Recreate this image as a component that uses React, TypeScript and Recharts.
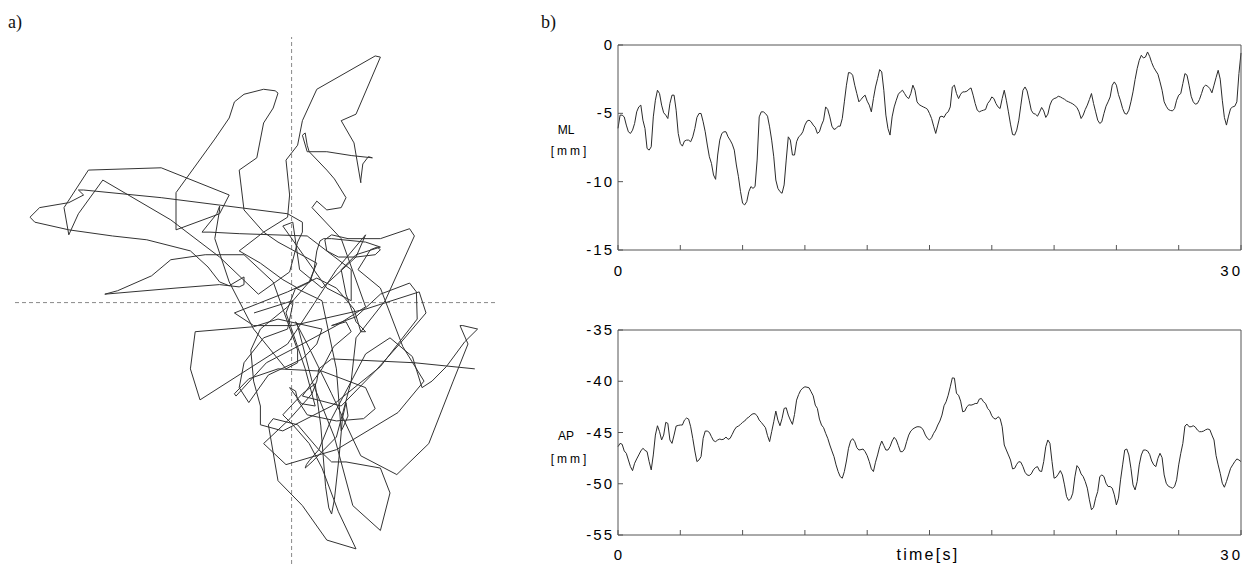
import React from "react";
import { Line, LineChart, ReferenceLine, XAxis, YAxis } from "recharts";

// sampling times [s]
const time = [
  0, 0.1, 0.2, 0.3, 0.4, 0.5, 0.6, 0.7, 0.8, 0.9,
  1, 1.1, 1.2, 1.3, 1.4, 1.5, 1.6, 1.7, 1.8, 1.9,
  2, 2.1, 2.2, 2.3, 2.4, 2.5, 2.6, 2.7, 2.8, 2.9,
  3, 3.1, 3.2, 3.3, 3.4, 3.5, 3.6, 3.7, 3.8, 3.9,
  4, 4.1, 4.2, 4.3, 4.4, 4.5, 4.6, 4.7, 4.8, 4.9,
  5, 5.1, 5.2, 5.3, 5.4, 5.5, 5.6, 5.7, 5.8, 5.9,
  6, 6.1, 6.2, 6.3, 6.4, 6.5, 6.6, 6.7, 6.8, 6.9,
  7, 7.1, 7.2, 7.3, 7.4, 7.5, 7.6, 7.7, 7.8, 7.9,
  8, 8.1, 8.2, 8.3, 8.4, 8.5, 8.6, 8.7, 8.8, 8.9,
  9, 9.1, 9.2, 9.3, 9.4, 9.5, 9.6, 9.7, 9.8, 9.9,
  10, 10.1, 10.2, 10.3, 10.4, 10.5, 10.6, 10.7, 10.8, 10.9,
  11, 11.1, 11.2, 11.3, 11.4, 11.5, 11.6, 11.7, 11.8, 11.9,
  12, 12.1, 12.2, 12.3, 12.4, 12.5, 12.6, 12.7, 12.8, 12.9,
  13, 13.1, 13.2, 13.3, 13.4, 13.5, 13.6, 13.7, 13.8, 13.9,
  14, 14.1, 14.2, 14.3, 14.4, 14.5, 14.6, 14.7, 14.8, 14.9,
  15, 15.1, 15.2, 15.3, 15.4, 15.5, 15.6, 15.7, 15.8, 15.9,
  16, 16.1, 16.2, 16.3, 16.4, 16.5, 16.6, 16.7, 16.8, 16.9,
  17, 17.1, 17.2, 17.3, 17.4, 17.5, 17.6, 17.7, 17.8, 17.9,
  18, 18.1, 18.2, 18.3, 18.4, 18.5, 18.6, 18.7, 18.8, 18.9,
  19, 19.1, 19.2, 19.3, 19.4, 19.5, 19.6, 19.7, 19.8, 19.9,
  20, 20.1, 20.2, 20.3, 20.4, 20.5, 20.6, 20.7, 20.8, 20.9,
  21, 21.1, 21.2, 21.3, 21.4, 21.5, 21.6, 21.7, 21.8, 21.9,
  22, 22.1, 22.2, 22.3, 22.4, 22.5, 22.6, 22.7, 22.8, 22.9,
  23, 23.1, 23.2, 23.3, 23.4, 23.5, 23.6, 23.7, 23.8, 23.9,
  24, 24.1, 24.2, 24.3, 24.4, 24.5, 24.6, 24.7, 24.8, 24.9,
  25, 25.1, 25.2, 25.3, 25.4, 25.5, 25.6, 25.7, 25.8, 25.9,
  26, 26.1, 26.2, 26.3, 26.4, 26.5, 26.6, 26.7, 26.8, 26.9,
  27, 27.1, 27.2, 27.3, 27.4, 27.5, 27.6, 27.7, 27.8, 27.9,
  28, 28.1, 28.2, 28.3, 28.4, 28.5, 28.6, 28.7, 28.8, 28.9,
  29, 29.1, 29.2, 29.3, 29.4, 29.5, 29.6, 29.7, 29.8, 29.9,
  30,
];

// medio-lateral COP [mm]
const ml = [
  -6.1, -5.13, -5.13, -5.26, -5.86, -6.35, -6.47, -6.23, -5.74, -4.89,
  -4.53, -4.4, -5.5, -6.11, -7.57, -7.69, -7.45, -5.26, -4.04, -3.31,
  -3.55, -4.4, -4.96, -5.13, -5.38, -4.28, -3.67, -3.67, -4.77, -6.47,
  -7.2, -7.4, -7.03, -6.96, -6.96, -7.08, -6.72, -6.11, -5.3, -5.01,
  -5.01, -5.62, -6.35, -7.32, -8.18, -8.66, -9.51, -9.83, -8.05, -6.96,
  -6.47, -6.35, -6.35, -6.72, -6.96, -7.25, -7.69, -8.78, -9.64, -10.73,
  -11.58, -11.7, -11.46, -10.73, -10.36, -10.49, -10.36, -8.42, -5.26, -4.89,
  -4.89, -5.01, -5.21, -5.99, -6.96, -8.18, -9.88, -10.49, -10.73, -10.85,
  -10.24, -8.42, -6.72, -6.96, -8.05, -8.05, -7.08, -6.72, -6.59, -6.35,
  -5.86, -5.57, -5.5, -5.62, -5.86, -6.03, -6.47, -6.35, -5.86, -5.5,
  -4.53, -4.72, -5.26, -5.94, -6.18, -6.11, -5.94, -5.94, -5.38, -4.16,
  -2.94, -2.02, -2.04, -2.21, -2.94, -3.55, -4.16, -3.99, -3.8, -3.67,
  -4.11, -4.4, -4.89, -3.92, -3.07, -2.46, -1.8, -1.97, -3.31, -5.13,
  -6.11, -6.59, -5.26, -4.53, -4.04, -3.6, -3.43, -3.31, -3.55, -3.8,
  -3.92, -3.55, -2.94, -3.31, -4.16, -4.36, -4.45, -4.53, -4.6, -4.7,
  -5.01, -5.38, -5.94, -6.47, -5.86, -5.26, -5.21, -5.3, -5.01, -4.89,
  -4.53, -3.07, -2.94, -3.55, -3.92, -3.6, -3.43, -3.43, -3.38, -3.24,
  -3.14, -3.67, -4.28, -4.77, -4.89, -4.82, -4.77, -4.72, -4.28, -4.09,
  -3.8, -3.92, -4.28, -4.53, -4.65, -3.92, -3.31, -4.04, -4.89, -5.79,
  -6.55, -6.59, -6.23, -5.5, -4.4, -3.31, -3.07, -3.36, -4.04, -4.77,
  -5.01, -5.06, -5.21, -4.91, -4.57, -4.82, -5.3, -5.06, -4.4, -4.04,
  -3.92, -3.87, -3.75, -3.8, -3.89, -3.97, -4.09, -4.16, -4.23, -4.31,
  -4.43, -4.57, -4.89, -5.38, -5.13, -4.72, -4.4, -3.99, -3.55, -4.28,
  -4.89, -5.5, -5.74, -5.62, -5.01, -4.48, -4.16, -3.8, -2.94, -2.7,
  -2.94, -3.63, -4.09, -4.65, -5.01, -5.06, -4.77, -4.16, -3.43, -2.53,
  -1.73, -1.12, -0.75, -0.95, -0.88, -0.51, -0.83, -1.29, -1.65, -1.9,
  -2.14, -2.7, -3.31, -4.16, -4.48, -4.72, -4.79, -4.82, -4.65, -4.04,
  -3.67, -3.55, -2.82, -2.09, -2.21, -2.94, -3.75, -4.16, -4.33, -4.28,
  -3.99, -3.55, -3.07, -2.94, -3.02, -3.19, -3.5, -2.94, -2.38, -1.85,
  -2.5, -4.04, -5.3, -5.86, -5.2, -4.65, -4.53, -4.48, -4.16, -2.09,
  -0.58,
];

// antero-posterior COP [mm]
const ap = [
  -46.38, -46.06, -46.15, -46.8, -47.03, -47.68, -48.33, -48.72, -48.0, -47.58,
  -47.19, -46.8, -46.54, -46.74, -46.87, -47.84, -48.65, -47.19, -45.25, -44.34,
  -44.92, -45.73, -45.25, -44.01, -44.11, -45.73, -46.06, -45.25, -44.37, -44.31,
  -44.27, -44.27, -43.79, -43.59, -43.69, -44.44, -45.57, -46.8, -47.84, -47.68,
  -47.35, -45.57, -44.86, -44.86, -44.99, -45.41, -45.8, -45.89, -45.73, -45.64,
  -45.7, -45.64, -45.44, -45.67, -45.57, -45.18, -44.76, -44.47, -44.37, -44.21,
  -44.01, -43.88, -43.63, -43.5, -43.3, -43.17, -43.17, -43.37, -43.79, -44.01,
  -44.27, -44.53, -45.31, -45.89, -44.92, -43.95, -42.91, -43.79, -44.34, -43.63,
  -42.65, -42.59, -43.3, -43.79, -44.21, -43.24, -41.84, -41.29, -40.87, -40.67,
  -40.54, -40.58, -40.64, -41.03, -41.42, -42.33, -42.65, -43.69, -44.27, -44.53,
  -45.08, -45.57, -46.22, -46.8, -47.35, -48.16, -48.81, -49.3, -49.46, -48.81,
  -47.78, -46.54, -45.83, -45.6, -45.89, -46.48, -46.71, -46.67, -46.61, -46.87,
  -47.26, -47.84, -48.55, -48.81, -47.9, -47.19, -46.38, -45.83, -46.28, -46.71,
  -46.71, -46.38, -45.83, -45.47, -45.73, -46.28, -46.87, -46.87, -46.61, -45.89,
  -45.25, -44.86, -44.66, -44.53, -44.44, -44.44, -44.5, -44.76, -45.25, -45.57,
  -45.73, -45.51, -45.08, -44.76, -44.27, -43.88, -43.3, -42.39, -42.0, -41.36,
  -40.54, -39.67, -39.7, -41.19, -41.36, -41.94, -42.98, -42.91, -42.49, -42.3,
  -42.33, -42.27, -42.17, -42.17, -41.74, -41.68, -42.0, -42.17, -42.65, -42.88,
  -43.37, -43.63, -43.69, -43.46, -43.63, -44.44, -46.22, -46.71, -47.19, -47.68,
  -48.55, -48.49, -48.1, -47.84, -47.9, -48.33, -48.88, -49.14, -49.2, -49.04,
  -48.65, -48.42, -48.33, -48.75, -48.81, -47.84, -46.38, -45.73, -46.06, -47.84,
  -49.46, -49.36, -49.07, -48.72, -49.14, -50.11, -51.25, -51.63, -51.47, -50.92,
  -49.33, -48.23, -48.49, -49.04, -49.3, -49.79, -50.43, -51.57, -52.54, -52.31,
  -51.41, -50.76, -49.3, -49.14, -49.3, -49.95, -50.27, -50.27, -50.43, -51.08,
  -52.06, -51.41, -49.62, -48.16, -46.71, -46.61, -47.19, -48.49, -50.11, -50.6,
  -49.79, -48.16, -47.19, -46.71, -46.71, -46.8, -47.13, -47.78, -48.16, -48.33,
  -47.52, -47.03, -47.45, -49.14, -49.95, -50.24, -50.34, -50.43, -50.27, -49.62,
  -48.16, -47.03, -46.06, -44.37, -44.18, -44.44, -44.44, -44.34, -44.47, -44.76,
  -44.92, -44.92, -44.86, -44.73, -44.66, -44.73, -45.25, -45.73, -47.26, -48.16,
  -48.98, -49.95, -50.34, -49.79, -49.14, -48.49, -48.16, -47.84, -47.58, -47.68,
  -47.84,
];

const timeTicks = [0, 3, 6, 9, 12, 15, 18, 21, 24, 27, 30];
const timeLabels = [0, 30];
const mlTicks = [0, -5, -10, -15];
const apTicks = [-35, -40, -45, -50, -55];

// crosshair of the stabilogram (mean position)
const ML_CENTER = -5.16;
const AP_CENTER = -46.11;

const rows = time.map((t, i) => ({ t, ml: ml[i], ap: ap[i] }));

const SANS = '"Liberation Sans", Arial, sans-serif';
const SERIF = '"Liberation Serif", "Times New Roman", serif';
const FRAME = "#555";
const TRACE = "#2b2b2b";

const timeTick = (props: any) => {
  const { x, y, payload } = props;
  const v = payload.value;
  if (!timeLabels.includes(v)) return <g />;
  const last = v === timeLabels[timeLabels.length - 1];
  return (
    <text
      x={last ? x + 2 : x + 1.5}
      y={y}
      dy={11}
      textAnchor={last ? "end" : "middle"}
      fontFamily={SANS}
      fontSize={15}
      letterSpacing={3}
      fill="#000"
    >
      {v}
    </text>
  );
};

const valueTick = (props: any) => {
  const { x, y, payload } = props;
  return (
    <text
      x={x + 2}
      y={y}
      dy={5}
      textAnchor="end"
      fontFamily={SANS}
      fontSize={15}
      letterSpacing={2}
      fill="#000"
    >
      {payload.value}
    </text>
  );
};

const SeriesPanel = ({
  dataKey,
  domain,
  ticks,
  height,
  bottomHeight,
  marginBottom,
  labelGap,
}: {
  dataKey: string;
  domain: [number, number];
  ticks: number[];
  height: number;
  bottomHeight: number;
  marginBottom: number;
  labelGap: number;
}) => (
  <LineChart
    width={707}
    height={height}
    data={rows}
    margin={{ top: 24, right: 5, bottom: marginBottom, left: 18 }}
  >
    <XAxis
      xAxisId="b"
      dataKey="t"
      type="number"
      domain={[0, 30]}
      ticks={timeTicks}
      interval={0}
      height={bottomHeight}
      tickSize={-5}
      tickMargin={labelGap}
      tick={timeTick}
      axisLine={{ stroke: FRAME }}
      tickLine={{ stroke: FRAME }}
    />
    <XAxis
      xAxisId="top"
      orientation="top"
      dataKey="t"
      type="number"
      domain={[0, 30]}
      ticks={timeTicks}
      interval={0}
      height={1}
      tickSize={-5}
      tick={false}
      axisLine={{ stroke: FRAME }}
      tickLine={{ stroke: FRAME }}
    />
    <YAxis
      yAxisId="l"
      type="number"
      domain={domain}
      ticks={ticks}
      interval={0}
      width={60}
      tickSize={-5}
      tickMargin={11}
      tick={valueTick}
      axisLine={{ stroke: FRAME }}
      tickLine={{ stroke: FRAME }}
      allowDataOverflow
    />
    <YAxis
      yAxisId="r"
      orientation="right"
      type="number"
      domain={domain}
      ticks={ticks}
      interval={0}
      width={1}
      tickSize={-5}
      tick={false}
      axisLine={{ stroke: FRAME }}
      tickLine={{ stroke: FRAME }}
      allowDataOverflow
    />
    <Line
      xAxisId="top"
      yAxisId="r"
      dataKey={dataKey}
      stroke="none"
      dot={false}
      isAnimationActive={false}
    />
    <Line
      xAxisId="b"
      yAxisId="l"
      dataKey={dataKey}
      type="linear"
      stroke={TRACE}
      strokeWidth={1}
      dot={false}
      isAnimationActive={false}
    />
  </LineChart>
);

export default function App() {
  return (
    <div
      style={{
        position: "absolute",
        left: 0,
        top: 0,
        width: 1247,
        height: 564,
        background: "#fff",
        overflow: "hidden",
      }}
    >
      {/* a) stabilogram: AP against ML */}
      <div style={{ position: "absolute", left: 15, top: 37 }}>
        <LineChart
          width={482}
          height={527}
          data={rows}
          margin={{ top: 0, right: 0, bottom: 0, left: 0 }}
        >
          <XAxis
            type="number"
            dataKey="ml"
            domain={[-12.075, -0.025]}
            hide
            allowDataOverflow
          />
          <YAxis type="number" domain={[-52.935, -39.175]} hide allowDataOverflow />
          <ReferenceLine x={ML_CENTER} stroke="#888" strokeDasharray="4 3" />
          <ReferenceLine y={AP_CENTER} stroke="#888" strokeDasharray="4 3" />
          <Line
            dataKey="ap"
            type="linear"
            stroke="#333"
            strokeWidth={1}
            dot={false}
            isAnimationActive={false}
          />
        </LineChart>
      </div>

      {/* b) time series */}
      <div style={{ position: "absolute", left: 540, top: 20 }}>
        <SeriesPanel
          dataKey="ml"
          domain={[-15, 0]}
          ticks={mlTicks}
          height={270}
          bottomHeight={30}
          marginBottom={10}
          labelGap={20}
        />
      </div>
      <div style={{ position: "absolute", left: 540, top: 305 }}>
        <SeriesPanel
          dataKey="ap"
          domain={[-55, -35]}
          ticks={apTicks}
          height={259}
          bottomHeight={29}
          marginBottom={0}
          labelGap={19}
        />
      </div>

      <svg
        width={1247}
        height={564}
        style={{ position: "absolute", left: 0, top: 0, pointerEvents: "none" }}
      >
        <text x={8} y={28} fontFamily={SERIF} fontSize={18} fill="#111">
          a)
        </text>
        <text x={541} y={28} fontFamily={SERIF} fontSize={18} fill="#111">
          b)
        </text>
        <text x={566} y={134} textAnchor="middle" fontFamily={SANS} fontSize={12} fill="#000">
          ML
        </text>
        <text x={570} y={155} textAnchor="middle" fontFamily={SANS} fontSize={12} letterSpacing={3} fill="#000">
          [mm]
        </text>
        <text x={566} y={440} textAnchor="middle" fontFamily={SANS} fontSize={12} fill="#000">
          AP
        </text>
        <text x={570} y={463} textAnchor="middle" fontFamily={SANS} fontSize={12} letterSpacing={3} fill="#000">
          [mm]
        </text>
        <text x={928} y={560} textAnchor="middle" fontFamily={SANS} fontSize={16} letterSpacing={2.3} fill="#000">
          time[s]
        </text>
      </svg>
    </div>
  );
}
